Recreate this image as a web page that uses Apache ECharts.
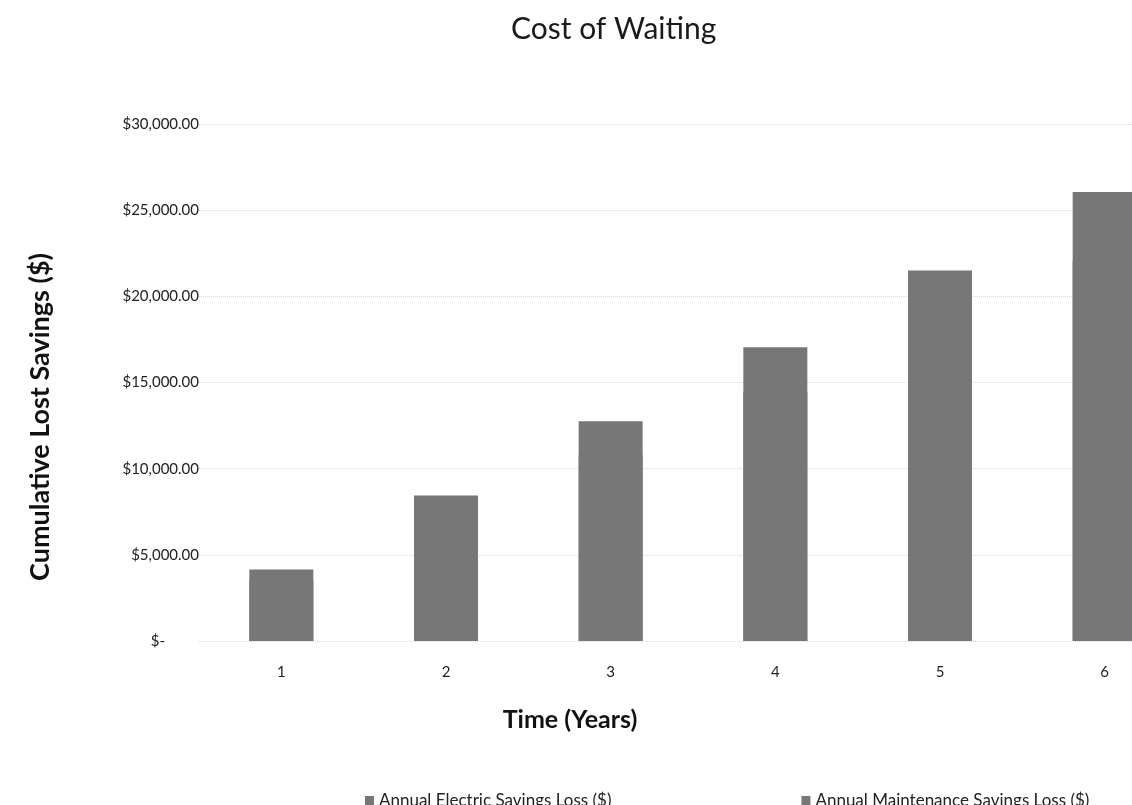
<!DOCTYPE html>
<html>
<head>
<meta charset="utf-8">
<script src="https://cdn.jsdelivr.net/npm/echarts@6/dist/echarts.min.js"></script>
<style>
html,body{margin:0;padding:0;background:#fff;}
#chart{width:1132px;height:805px;}
</style>
</head>
<body>
<div id="chart"></div>
<script>
var categories = ['1', '2', '3', '4', '5', '6'];
var electricLoss = [3500, 7150, 10800, 14450, 18200, 22050];
var maintenanceLoss = [650, 1300, 1950, 2600, 3300, 4000];
var seriesNames = ['Annual Electric Savings Loss ($)', 'Annual Maintenance Savings Loss ($)'];
var chartTitle = 'Cost of Waiting';
var xTitle = 'Time (Years)';
var yTitle = 'Cumulative Lost Savings ($)';

// maintenance sits on top of electric: its bar spans from 0 to the stacked top,
// drawn behind the electric bar so no seam appears between the two parts
var stackedTop = electricLoss.map(function (v, i) { return v + maintenanceLoss[i]; });

var FONT = 'Lato, "Open Sans", sans-serif';
function fmt(v) {
  if (v === 0) return '{z|$-}';
  return '$' + v.toLocaleString('en-US', {minimumFractionDigits: 2, maximumFractionDigits: 2});
}
var chart = echarts.init(document.getElementById('chart'));
var barStyle = {color: '#777777'};
chart.setOption({
  backgroundColor: '#ffffff',
  animation: false,
  title: {
    text: chartTitle, left: 506, top: 9,
    textStyle: {fontFamily: FONT, fontSize: 30, fontWeight: 'normal', color: '#1a1a1a'}
  },
  graphic: [
    {type: 'text', x: 570, y: 720, style: {text: xTitle, font: 'bold 25px ' + FONT, fill: '#111', align: 'center', verticalAlign: 'middle'}},
    {type: 'text', x: 40, y: 417, rotation: Math.PI / 2, style: {text: yTitle, font: 'bold 27px ' + FONT, fill: '#111', align: 'center', verticalAlign: 'middle'}}
  ],
  legend: {
    data: seriesNames, left: 360, top: 787, itemGap: 190, itemWidth: 9, itemHeight: 9, icon: 'rect',
    textStyle: {fontFamily: FONT, fontSize: 17, color: '#222'}
  },
  grid: {left: 199, top: 124, bottom: 164, width: 988, containLabel: false, outerBoundsMode: 'none'},
  xAxis: {
    type: 'category', data: categories,
    axisLine: {show: false}, axisTick: {show: false},
    axisLabel: {fontFamily: FONT, fontSize: 15, color: '#222', margin: 24}
  },
  yAxis: {
    type: 'value', min: 0, max: 30000, interval: 5000,
    axisLine: {show: false}, axisTick: {show: false},
    splitLine: {show: true, lineStyle: {color: '#d8d8d8', type: 'dotted', width: 1}},
    axisLabel: {
      fontFamily: FONT, fontSize: 15, color: '#222', margin: 0, formatter: fmt,
      rich: {z: {fontFamily: FONT, fontSize: 15, color: '#222', padding: [0, 34, 0, 0]}}
    }
  },
  series: [
    {name: seriesNames[0], type: 'bar', data: electricLoss, barWidth: 64, barGap: '-100%', z: 3, itemStyle: barStyle},
    {name: seriesNames[1], type: 'bar', data: stackedTop, barWidth: 64, barGap: '-100%', z: 2, itemStyle: barStyle}
  ]
});
</script>
</body>
</html>
